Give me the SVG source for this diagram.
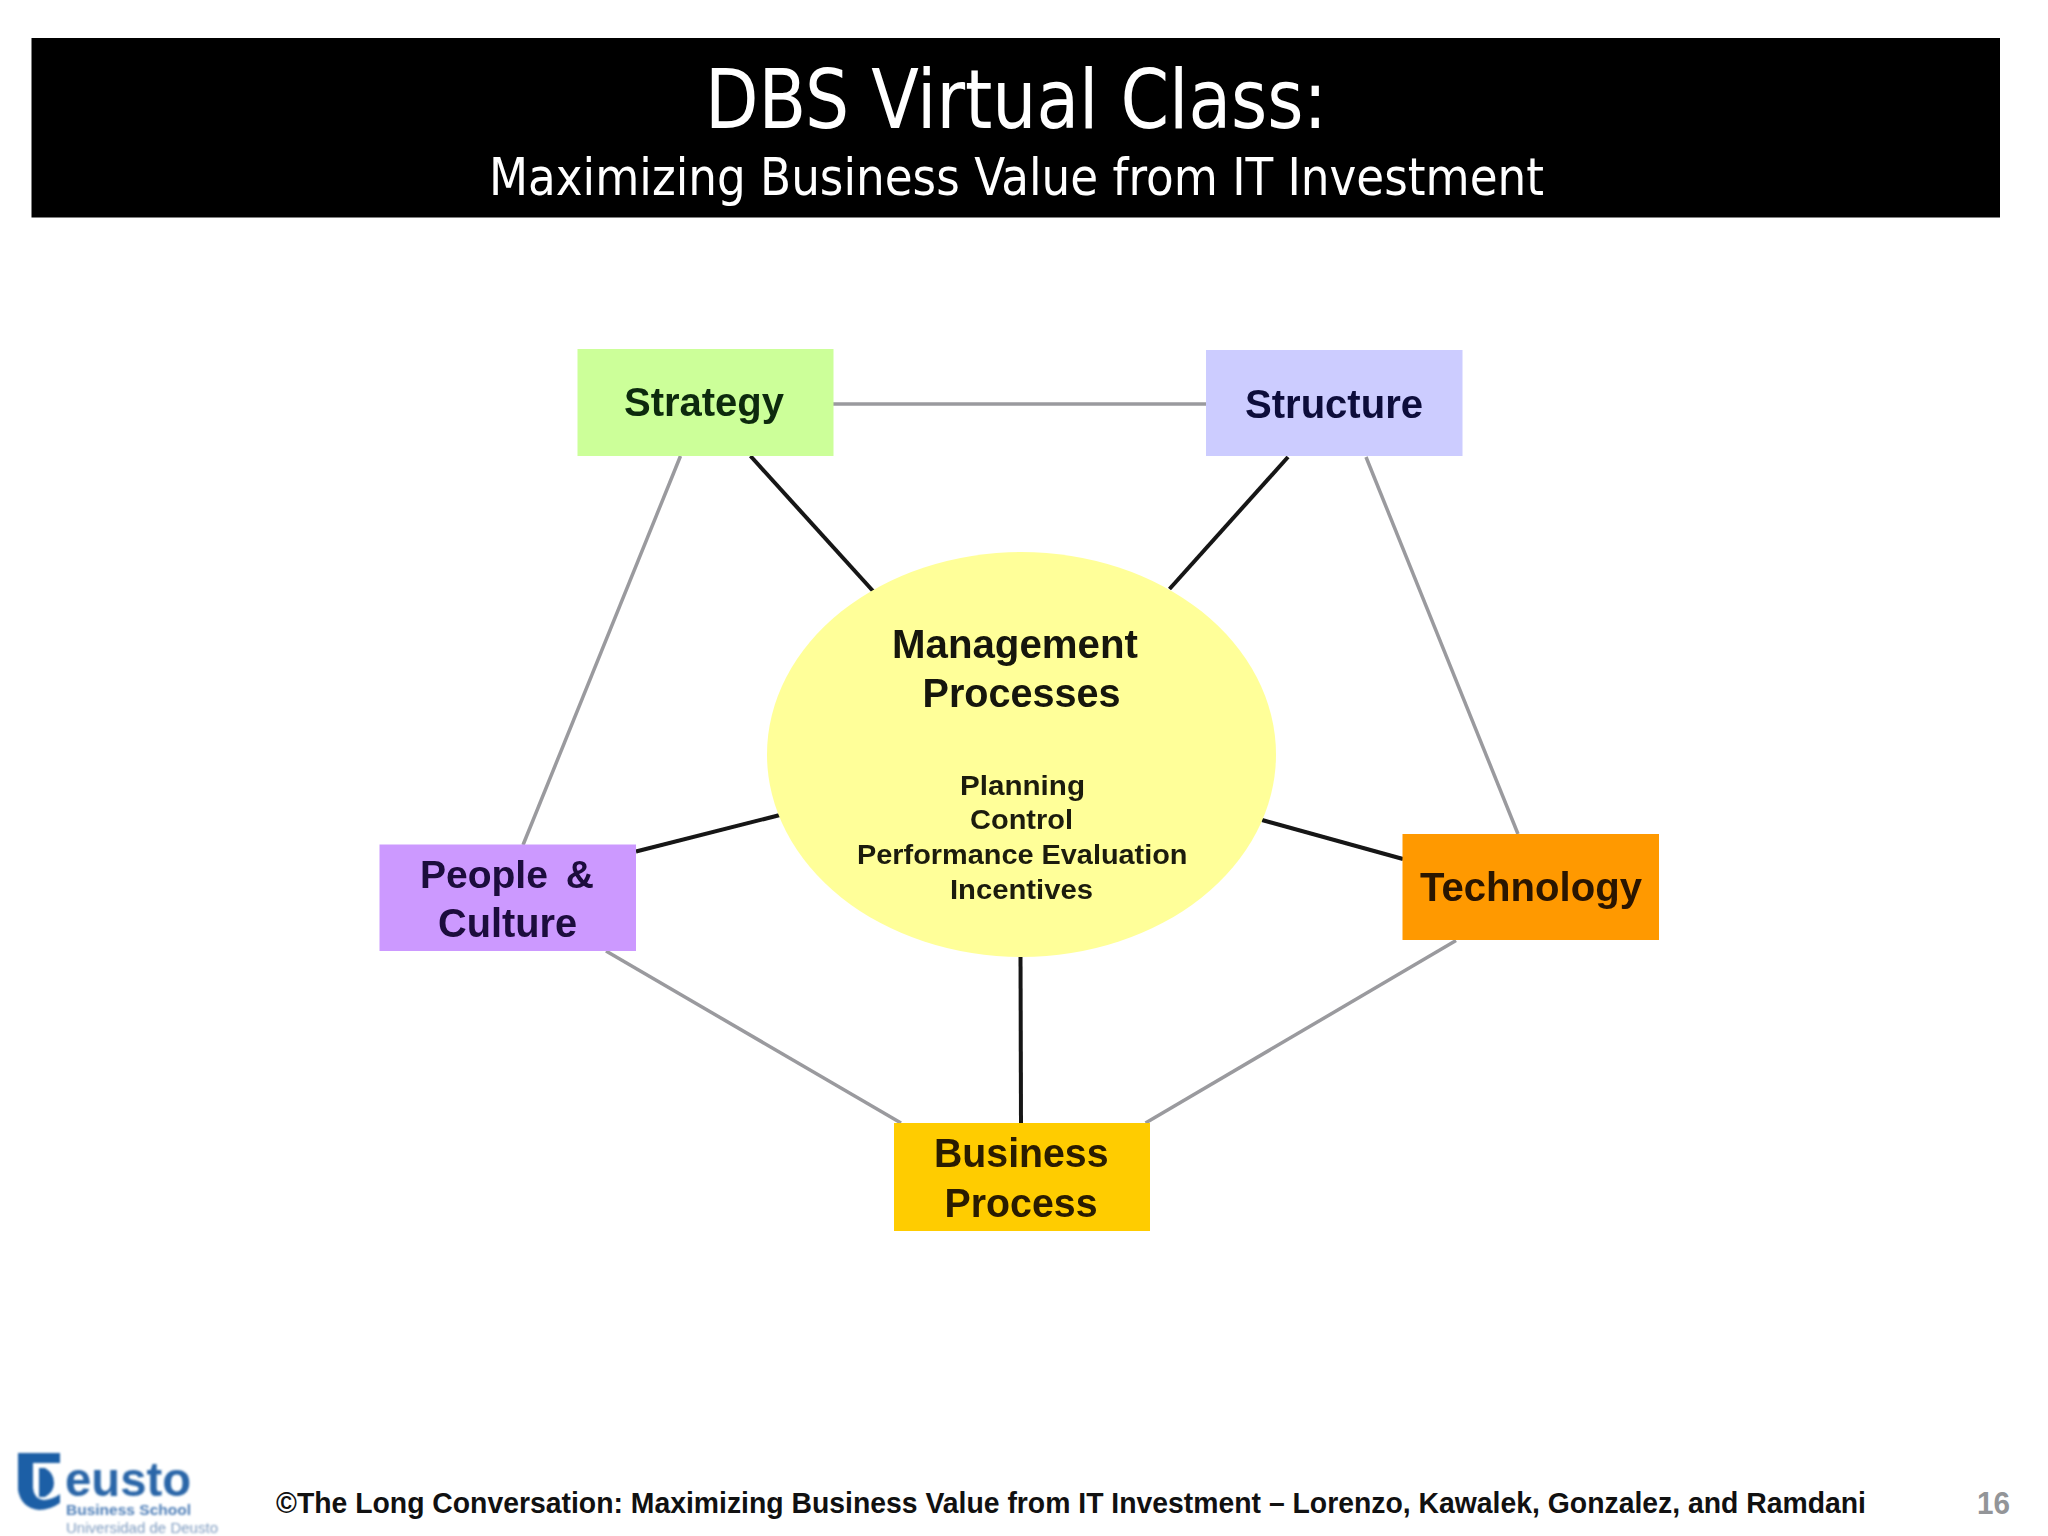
<svg xmlns="http://www.w3.org/2000/svg" width="2048" height="1536" viewBox="0 0 2048 1536">
<defs>
<filter id="soft" x="-5%" y="-5%" width="110%" height="110%"><feGaussianBlur stdDeviation="0.7"/></filter>
<filter id="softer" x="-5%" y="-5%" width="110%" height="110%"><feGaussianBlur stdDeviation="0.8"/></filter>
</defs>
<style>
.lb{font-family:"Liberation Sans",Arial,sans-serif;font-weight:700;text-anchor:start}
.big{font-size:40px}
.sm{font-size:28px;fill:#1c1c10}
.gray{stroke:#9a9a9e;stroke-width:3.5;fill:none}
.blk{stroke:#141414;stroke-width:4;fill:none}
.ti{font-family:"DejaVu Sans",Tahoma,sans-serif;font-stretch:condensed;fill:#fff}
.node{filter:url(#soft)}
</style>
<rect width="2048" height="1536" fill="#fff"/>
<g id="header">
<rect x="31.5" y="38" width="1968.5" height="179.5" fill="#000"/>
<text class="ti" x="705" y="128" font-size="82" textLength="622" lengthAdjust="spacingAndGlyphs">DBS Virtual Class:</text>
<text class="ti" x="489" y="195" font-size="52" textLength="1055" lengthAdjust="spacingAndGlyphs">Maximizing Business Value from IT Investment</text>
</g>
<g id="connectors" filter="url(#soft)">
<line class="gray" x1="833" y1="404" x2="1206" y2="404"/>
<line class="gray" x1="680.5" y1="456" x2="523" y2="845"/>
<line class="gray" x1="1366" y1="457" x2="1518" y2="834"/>
<line class="gray" x1="606" y1="951" x2="901" y2="1123"/>
<line class="gray" x1="1456" y1="940.5" x2="1145.5" y2="1123"/>
<line class="blk" x1="750.5" y1="456" x2="873" y2="591"/>
<line class="blk" x1="1288" y1="457" x2="1169.5" y2="589"/>
<line class="blk" x1="636" y1="851.5" x2="780" y2="815"/>
<line class="blk" x1="1262" y1="820" x2="1403" y2="859"/>
<line class="blk" x1="1020.5" y1="955" x2="1021" y2="1124"/>
</g>
<g id="strategy" class="node">
<rect x="577.5" y="349" width="256" height="107" fill="#ccff99"/>
<text class="lb big" x="624" y="416" fill="#0c2a10" textLength="160" lengthAdjust="spacingAndGlyphs">Strategy</text>
</g>
<g id="structure" class="node">
<rect x="1206" y="350" width="256.5" height="106" fill="#ccccff"/>
<text class="lb big" x="1245" y="418" fill="#0c0c3a" textLength="178" lengthAdjust="spacingAndGlyphs">Structure</text>
</g>
<g id="people-culture" class="node">
<rect x="379.5" y="844.5" width="256.5" height="106.5" fill="#cc99ff"/>
<text class="lb" x="420" y="887.5" font-size="39" word-spacing="7" fill="#1c0a3c">People &amp;</text>
<text class="lb big" x="438" y="937" fill="#1c0a3c" textLength="139" lengthAdjust="spacingAndGlyphs">Culture</text>
</g>
<g id="technology" class="node">
<rect x="1402.5" y="834" width="256.5" height="106" fill="#ff9900"/>
<text class="lb big" x="1420" y="901" fill="#2a1200" textLength="222" lengthAdjust="spacingAndGlyphs">Technology</text>
</g>
<g id="business-process" class="node">
<rect x="894" y="1123" width="256" height="108" fill="#ffcc00"/>
<text class="lb big" x="934" y="1167" fill="#2a1a00" textLength="174.5" lengthAdjust="spacingAndGlyphs">Business</text>
<text class="lb big" x="944.5" y="1217" fill="#2a1a00" textLength="153" lengthAdjust="spacingAndGlyphs">Process</text>
</g>
<g id="management-processes" class="node">
<ellipse cx="1021.5" cy="754.5" rx="254.5" ry="202.5" fill="#ffff99"/>
<text class="lb big" x="892" y="657.5" fill="#14140a" textLength="246" lengthAdjust="spacingAndGlyphs">Management</text>
<text class="lb big" x="922.5" y="707" fill="#14140a" textLength="198" lengthAdjust="spacingAndGlyphs">Processes</text>
<text class="lb sm" x="960" y="795" textLength="125" lengthAdjust="spacingAndGlyphs">Planning</text>
<text class="lb sm" x="970" y="829" textLength="103" lengthAdjust="spacingAndGlyphs">Control</text>
<text class="lb sm" x="857" y="864" textLength="330.5" lengthAdjust="spacingAndGlyphs">Performance Evaluation</text>
<text class="lb sm" x="950" y="899" textLength="143" lengthAdjust="spacingAndGlyphs">Incentives</text>
</g>
<g id="logo" filter="url(#softer)">
<path d="M18,1453H60V1463H33V1488Q34,1499 44,1500Q54,1499 60,1494V1503Q50,1510 39,1510Q21,1508 18,1490Z" fill="#1f5fa6"/>
<path d="M39,1468H45Q54,1473 54,1483Q54,1492 45,1497H39Z" fill="#1f5fa6"/>
<text x="65" y="1496" font-family="'Liberation Sans',Arial,sans-serif" font-size="48" font-weight="700" fill="#2a66a8" textLength="126" lengthAdjust="spacingAndGlyphs">eusto</text>
<text x="66" y="1515" font-family="'Liberation Sans',Arial,sans-serif" font-size="15" font-weight="700" fill="#4f7fb8" textLength="125" lengthAdjust="spacingAndGlyphs">Business School</text>
<text x="66" y="1532.5" font-family="'Liberation Sans',Arial,sans-serif" font-size="15" fill="#7f9cc0" textLength="152" lengthAdjust="spacingAndGlyphs">Universidad de Deusto</text>
</g>
<g id="footer">
<text class="lb" x="276" y="1512.5" font-size="29" fill="#111" textLength="1590" lengthAdjust="spacingAndGlyphs">©The Long Conversation: Maximizing Business Value from IT Investment – Lorenzo, Kawalek, Gonzalez, and Ramdani</text>
<text class="lb" x="1977" y="1514" font-size="31" fill="#939598" textLength="33" lengthAdjust="spacingAndGlyphs">16</text>
</g>
</svg>
